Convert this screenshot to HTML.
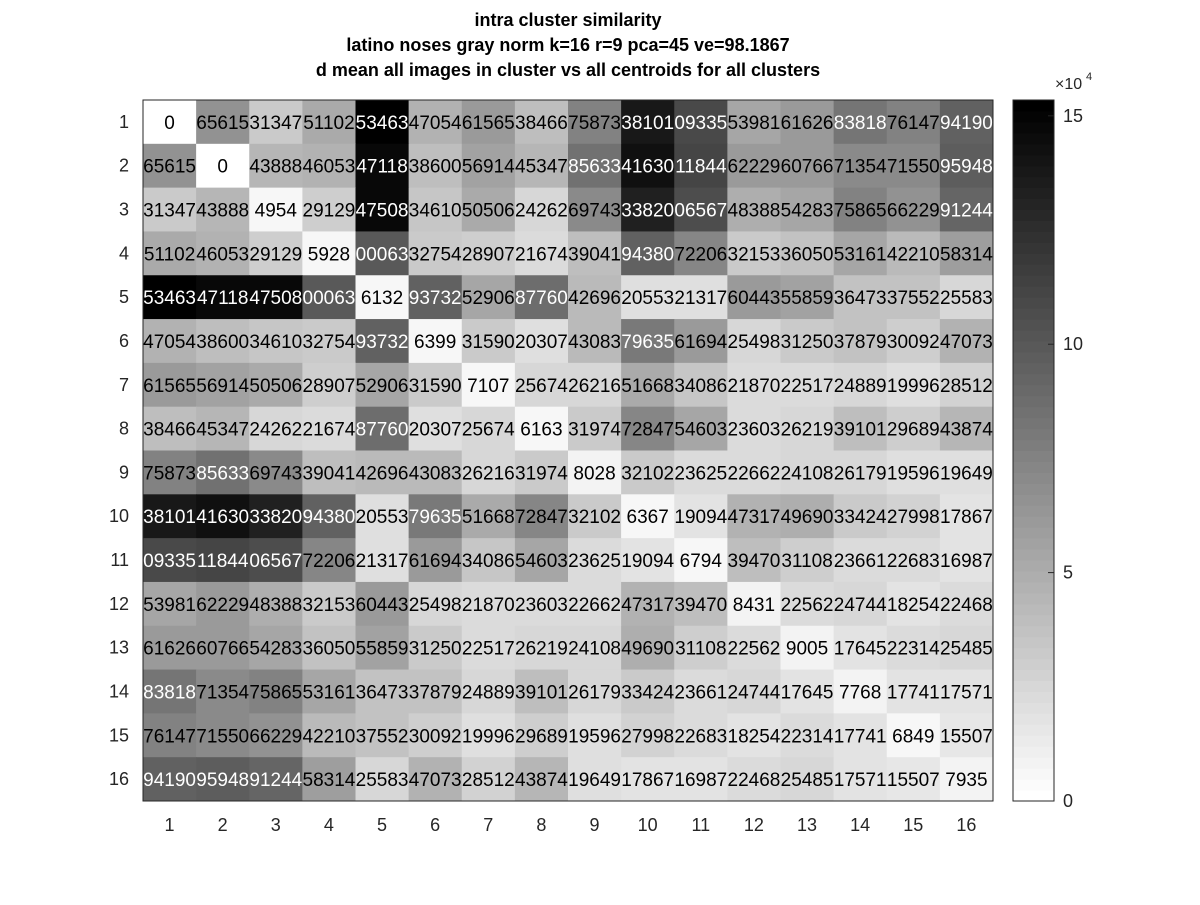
<!DOCTYPE html>
<html><head><meta charset="utf-8"><style>
body{margin:0;background:#fff;font-family:"Liberation Sans",Arial,sans-serif}
</style></head><body>
<svg id="chart" width="1200" height="900" xmlns="http://www.w3.org/2000/svg">
<defs><clipPath id="pc"><rect x="143" y="100" width="850" height="701"/></clipPath></defs>
<rect width="1200" height="900" fill="#fff"/>
<g font-weight="bold" font-size="18" text-anchor="middle" fill="#000">
<text x="568" y="26">intra cluster similarity</text>
<text x="568" y="51">latino noses gray norm k=16 r=9 pca=45 ve=98.1867</text>
<text x="568" y="76">d mean all images in cluster vs all centroids for all clusters</text>
</g>
<g id="cells"></g>
<g id="labels" clip-path="url(#pc)"></g>
<g id="axes"></g>
<g id="cbar"></g>
</svg>
<script>
const rowLabels=["1","2","3","4","5","6","7","8","9","10","11","12","13","14","15","16"];
const colLabels=["1","2","3","4","5","6","7","8","9","10","11","12","13","14","15","16"];
const values=[
[0,65615,31347,51102,153463,47054,61565,38466,75873,138101,109335,53981,61626,83818,76147,94190],
[65615,0,43888,46053,147118,38600,56914,45347,85633,141630,111844,62229,60766,71354,71550,95948],
[31347,43888,4954,29129,147508,34610,50506,24262,69743,133820,106567,48388,54283,75865,66229,91244],
[51102,46053,29129,5928,100063,32754,28907,21674,39041,94380,72206,32153,36050,53161,42210,58314],
[153463,147118,147508,100063,6132,93732,52906,87760,42696,20553,21317,60443,55859,36473,37552,25583],
[47054,38600,34610,32754,93732,6399,31590,20307,43083,79635,61694,25498,31250,37879,30092,47073],
[61565,56914,50506,28907,52906,31590,7107,25674,26216,51668,34086,21870,22517,24889,19996,28512],
[38466,45347,24262,21674,87760,20307,25674,6163,31974,72847,54603,23603,26219,39101,29689,43874],
[75873,85633,69743,39041,42696,43083,26216,31974,8028,32102,23625,22662,24108,26179,19596,19649],
[138101,141630,133820,94380,20553,79635,51668,72847,32102,6367,19094,47317,49690,33424,27998,17867],
[109335,111844,106567,72206,21317,61694,34086,54603,23625,19094,6794,39470,31108,23661,22683,16987],
[53981,62229,48388,32153,60443,25498,21870,23603,22662,47317,39470,8431,22562,24744,18254,22468],
[61626,60766,54283,36050,55859,31250,22517,26219,24108,49690,31108,22562,9005,17645,22314,25485],
[83818,71354,75865,53161,36473,37879,24889,39101,26179,33424,23661,24744,17645,7768,17741,17571],
[76147,71550,66229,42210,37552,30092,19996,29689,19596,27998,22683,18254,22314,17741,6849,15507],
[94190,95948,91244,58314,25583,47073,28512,43874,19649,17867,16987,22468,25485,17571,15507,7935]];
const cbTicks=[0,5,10,15];
const NS="http://www.w3.org/2000/svg";
const X0=143,X1=993,Y0=100,Y1=801,N=16;
const cw=(X1-X0)/N,ch=(Y1-Y0)/N;
let vmax=0;values.forEach(r=>r.forEach(v=>{if(v>vmax)vmax=v;}));
function colX(j){return X0+j*cw;}
function rowY(i){return Y0+i*ch;}
function gray(v){let k=Math.min(63,Math.floor(v/vmax*64));let g=Math.round(255*(1-k/63));return `rgb(${g},${g},${g})`;}
function mk(t,a,p){const e=document.createElementNS(NS,t);for(const k in a)e.setAttribute(k,a[k]);p.appendChild(e);return e;}
const cells=document.getElementById('cells'),labels=document.getElementById('labels'),axes=document.getElementById('axes'),cbar=document.getElementById('cbar');
values.forEach((r,i)=>r.forEach((v,j)=>{
 const c=mk('rect',{x:colX(j),y:rowY(i),width:cw+0.5,height:ch+0.5,fill:gray(v)},cells);
 
 
}));
values.forEach((r,i)=>r.forEach((v,j)=>{
 const t=mk('text',{x:colX(j)+cw/2,y:rowY(i)+ch/2+7,'text-anchor':'middle','font-size':'19',fill:v>vmax/2?'#fff':'#000'},labels);
 t.textContent=String(v).slice(-5);
 
 
}));
const fr=mk('rect',{x:X0,y:Y0,width:X1-X0,height:Y1-Y0,fill:'none',stroke:'#262626','stroke-width':1},axes);


rowLabels.forEach((l,i)=>{
 const t=mk('text',{x:X0-14,y:rowY(i)+ch/2+6,'text-anchor':'end','font-size':'18',fill:'#262626'},axes);
 t.textContent=l;
 
 
});
colLabels.forEach((l,j)=>{
 const t=mk('text',{x:colX(j)+cw/2,y:Y1+30,'text-anchor':'middle','font-size':'18',fill:'#262626'},axes);
 t.textContent=l;
 
 
});
const CX0=1013,CX1=1054;
for(let k=0;k<64;k++){
 const ya=Y1-(k+1)/64*(Y1-Y0),g=Math.round(255*(1-k/63));
 const r=mk('rect',{x:CX0,y:ya,width:CX1-CX0,height:(Y1-Y0)/64+0.5,fill:`rgb(${g},${g},${g})`},cbar);
 
 
}
const cf=mk('rect',{x:CX0,y:Y0,width:CX1-CX0,height:Y1-Y0,fill:'none',stroke:'#262626'},cbar);


cbTicks.forEach(tv=>{
 const y=Y1-tv*1e4/vmax*(Y1-Y0);
 mk('line',{x1:CX1-6,x2:CX1,y1:y,y2:y,stroke:'#262626'},cbar);
 const t=mk('text',{x:CX1+9,y:y+6,'font-size':'18',fill:'#262626'},cbar);
 t.textContent=String(tv);
 
 
});
const ex=mk('text',{x:1055,y:89,'font-size':'16',fill:'#262626'},cbar);
ex.textContent='×10';


const sup=mk('text',{x:1086,y:80,'font-size':'11',fill:'#262626'},cbar);
sup.textContent='4';


</script>
</body></html>
